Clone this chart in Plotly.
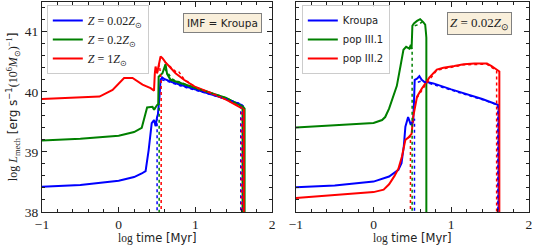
import plotly.graph_objects as go

# ---------- left panel: IMF = Kroupa, three metallicities ----------
t_z002 = [-1, -0.5, 0, 0.2, 0.3, 0.35, 0.39, 0.43, 0.46, 0.48, 0.5, 0.51, 0.53, 0.545, 0.566, 0.6, 0.7, 0.8, 1.0, 1.2, 1.4, 1.605, 1.62, 1.62]
L_z002 = [38.42, 38.45, 38.52, 38.58, 38.64, 38.68, 39.03, 39.48, 39.53, 39.43, 39.58, 39.62, 39.9, 40.2, 40.24, 40.21, 40.16, 40.12, 40.03, 39.96, 39.88, 39.78, 39.76, 37]
t_z002_dot = [0.46, 0.48, 0.5, 0.5, None, 0.56, 0.62, 0.8, 1.0, 1.2, 1.4, 1.59, 1.59]
L_z002_dot = [39.53, 39.43, 39.55, 37, None, 40.2, 40.18, 40.1, 40.03, 39.96, 39.88, 39.8, 37]

t_z02 = [-1, -0.5, 0, 0.2, 0.3, 0.34, 0.37, 0.44, 0.46, 0.5, 0.515, 0.52, 0.57, 0.61, 0.63, 0.675, 0.8, 1.0, 1.2, 1.4, 1.62, 1.64, 1.64]
L_z02 = [39.19, 39.22, 39.27, 39.33, 39.4, 39.6, 39.74, 39.75, 39.7, 39.78, 39.8, 40.25, 40.31, 40.46, 40.3, 40.2, 40.15, 40.06, 39.98, 39.9, 39.75, 39.72, 37]
t_z02_dot = [0.46, 0.5, 0.527, 0.527, None, 0.6, 0.7, 1.0, 1.4, 1.61, 1.61]
L_z02_dot = [39.7, 39.78, 39.8, 37, None, 40.38, 40.21, 40.06, 39.9, 39.76, 37]

t_z1 = [-1, -0.5, -0.25, -0.08, 0, 0.07, 0.18, 0.26, 0.31, 0.415, 0.46, 0.47, 0.48, 0.5, 0.515, 0.53, 0.545, 0.57, 0.61, 0.675, 0.74, 0.85, 1.0, 1.2, 1.4, 1.6, 1.63, 1.63]
L_z1 = [39.88, 39.9, 39.92, 40.03, 40.14, 40.23, 40.23, 40.17, 40.12, 40.06, 40.02, 40.3, 40.42, 40.31, 40.4, 40.45, 40.59, 40.56, 40.49, 40.4, 40.31, 40.2, 40.08, 39.98, 39.87, 39.73, 39.7, 37]
t_z1_dot = [0.5, 0.53, 0.553, 0.553, None, 0.6, 0.7, 0.75, 0.78, 0.85, 1.0, 1.4, 1.6, 1.6]
L_z1_dot = [40.31, 40.45, 40.2, 37, None, 40.5, 40.38, 40.33, 40.34, 40.21, 40.08, 39.87, 39.74, 37]

# ---------- right panel: Z = 0.02 Zsun, three IMFs ----------
t_kroupa = [-1, -0.5, 0, 0.2, 0.32, 0.36, 0.39, 0.41, 0.445, 0.47, 0.48, 0.5, 0.51, 0.52, 0.53, 0.56, 0.59, 0.62, 0.66, 0.7, 0.77, 1.0, 1.2, 1.4, 1.606, 1.61, 1.61]
L_kroupa = [38.41, 38.44, 38.505, 38.59, 38.7, 38.81, 39.1, 39.42, 39.58, 39.5, 39.45, 39.5, 39.5, 39.8, 40.2, 40.22, 40.26, 40.2, 40.16, 40.16, 40.14, 40.04, 39.96, 39.88, 39.78, 39.78, 37]
t_kroupa_dot = [0.48, 0.5, 0.527, 0.527, None, 0.57, 0.62, 0.77, 1.0, 1.4, 1.6, 1.6]
L_kroupa_dot = [39.45, 39.5, 39.55, 37, None, 40.16, 40.18, 40.12, 40.03, 39.87, 39.78, 37]

t_p31 = [-1, -0.5, 0, 0.11, 0.15, 0.2, 0.25, 0.3, 0.35, 0.385, 0.42, 0.46, 0.48, 0.49, 0.5, 0.52, 0.56, 0.6, 0.64, 0.665, 0.675, 0.68, 0.68]
L_p31 = [39.405, 39.44, 39.48, 39.53, 39.58, 39.72, 39.9, 40.1, 40.45, 40.7, 40.75, 40.72, 40.78, 40.72, 41.1, 41.14, 41.18, 41.21, 41.16, 41.12, 40.98, 40.9, 37]
t_p31_dot = [0.46, 0.497, 0.497, None, 0.53, 0.58, 0.62, 0.66]
L_p31_dot = [40.72, 40.72, 37, None, 41.1, 41.12, 41.16, 41.12]

t_p32 = [-1, -0.5, 0, 0.13, 0.2, 0.27, 0.32, 0.365, 0.41, 0.44, 0.47, 0.49, 0.51, 0.56, 0.62, 0.66, 0.72, 0.815, 0.9, 1.04, 1.16, 1.3, 1.46, 1.52, 1.6, 1.62, 1.62]
L_p32 = [38.23, 38.28, 38.33, 38.37, 38.46, 38.6, 38.72, 38.92, 39.2, 39.23, 39.27, 39.3, 39.58, 39.92, 40.05, 40.12, 40.24, 40.37, 40.4, 40.43, 40.46, 40.47, 40.47, 40.43, 40.36, 40.34, 37]
t_p32_dot = [0.44, 0.475, 0.475, None, 0.56, 0.66, 0.815, 1.16, 1.46, 1.585, 1.585]
L_p32_dot = [39.23, 39.25, 37, None, 39.9, 40.1, 40.36, 40.45, 40.46, 40.35, 37]

left_names = ["<i>Z</i> = 0.02<i>Z</i><sub>⊙</sub>", "<i>Z</i> = 0.2<i>Z</i><sub>⊙</sub>", "<i>Z</i> = 1<i>Z</i><sub>⊙</sub>"]
right_names = ["Kroupa", "pop III.1", "pop III.2"]
colors = ["#0000ff", "#008000", "#ff0000"]

left_solid = [(t_z002, L_z002), (t_z02, L_z02), (t_z1, L_z1)]
left_dot = [(t_z002_dot, L_z002_dot), (t_z02_dot, L_z02_dot), (t_z1_dot, L_z1_dot)]
right_solid = [(t_kroupa, L_kroupa), (t_p31, L_p31), (t_p32, L_p32)]
right_dot = [(t_kroupa_dot, L_kroupa_dot), (t_p31_dot, L_p31_dot), (t_p32_dot, L_p32_dot)]

fig = go.Figure()

for (t, L), name, c in zip(left_solid, left_names, colors):
    fig.add_trace(go.Scatter(x=t, y=L, mode="lines", name=name, line=dict(color=c, width=2),
                             xaxis="x", yaxis="y", legend="legend"))
for (t, L), c in zip(left_dot, colors):
    fig.add_trace(go.Scatter(x=t, y=L, mode="lines", showlegend=False, line=dict(color=c, width=1.5, dash="dot"),
                             xaxis="x", yaxis="y"))
for (t, L), name, c in zip(right_solid, right_names, colors):
    fig.add_trace(go.Scatter(x=t, y=L, mode="lines", name=name, line=dict(color=c, width=2),
                             xaxis="x2", yaxis="y2", legend="legend2"))
for (t, L), c in zip(right_dot, colors):
    fig.add_trace(go.Scatter(x=t, y=L, mode="lines", showlegend=False, line=dict(color=c, width=1.5, dash="dot"),
                             xaxis="x2", yaxis="y2"))

serif = "Liberation Serif"
sans = "DejaVu Sans"
ink = "#222"

ax_common = dict(
    showline=True, linecolor=ink, linewidth=1, mirror="allticks", automargin=False,
    ticks="inside", ticklen=5, tickcolor=ink, showgrid=False, zeroline=False,
    tickfont=dict(family=serif, size=13.5, color=ink),
)
minor = dict(dtick=0.2, ticks="inside", ticklen=3, tickcolor=ink)
x_title = '<span style="font-family:Liberation Serif">log</span> time [Myr]'

fig.update_layout(
    width=538, height=247,
    margin=dict(l=0, r=0, t=0, b=0),
    plot_bgcolor="white", paper_bgcolor="white",
    xaxis=dict(domain=[0.078, 0.506], range=[-1, 2], tickvals=[-1, 0, 1, 2], ticktext=["−1", "0", "1", "2"],
               minor=minor, anchor="y", **ax_common),
    yaxis=dict(domain=[0.142, 0.993], range=[38, 41.5], tickvals=[38, 39, 40, 41],
               minor=minor,
               title=dict(text='<span style="font-family:Liberation Serif">log <i>L</i><sub>mech</sub></span> '
                               '[erg s<sup>−1</sup><span style="font-family:Liberation Serif">(10<sup>6</sup><i>M</i><sub>⊙</sub>)<sup>−1</sup></span>]',
                          font=dict(family=sans, size=12, color=ink), standoff=4),
               anchor="x", **ax_common),
    xaxis2=dict(domain=[0.550, 0.983], range=[-1, 2], tickvals=[-1, 0, 1, 2], ticktext=["−1", "0", "1", "2"],
                minor=minor, anchor="y2", **ax_common),
    yaxis2=dict(domain=[0.142, 0.993], range=[38, 41.5], tickvals=[38, 39, 40, 41], showticklabels=False,
                minor=minor, anchor="x2", **ax_common),
    legend=dict(x=0.087, y=0.98, xanchor="left", yanchor="top", bgcolor="rgba(255,255,255,0.85)",
                bordercolor="#cccccc", borderwidth=1, font=dict(family=serif, size=12, color=ink),
                tracegroupgap=0, itemwidth=30),
    legend2=dict(x=0.561, y=0.98, xanchor="left", yanchor="top", bgcolor="rgba(255,255,255,0.85)",
                 bordercolor="#cccccc", borderwidth=1, font=dict(family=sans, size=10, color=ink),
                 tracegroupgap=0, itemwidth=30),
    annotations=[
        dict(text="IMF = Kroupa", x=0.487, y=0.907, xref="paper", yref="paper", xanchor="right", yanchor="middle",
             showarrow=False, font=dict(family=sans, size=10.5, color=ink), bgcolor="#f9efdb", bordercolor="#808080",
             borderwidth=1, borderpad=3),
        dict(text="<i>Z</i> = 0.02<i>Z</i><sub>⊙</sub>", x=0.952, y=0.905, xref="paper", yref="paper", xanchor="right",
             yanchor="middle", showarrow=False, font=dict(family=serif, size=13, color=ink), bgcolor="#f9efdb",
             bordercolor="#808080", borderwidth=1, borderpad=2),
        dict(text=x_title, x=0.292, y=0.036, xref="paper", yref="paper", xanchor="center", yanchor="middle",
             showarrow=False, font=dict(family=sans, size=11.5, color=ink)),
        dict(text=x_title, x=0.7665, y=0.036, xref="paper", yref="paper", xanchor="center", yanchor="middle",
             showarrow=False, font=dict(family=sans, size=11.5, color=ink)),
    ],
)

fig.write_html("out.html", config={"displayModeBar": False},
               post_script="document.body.style.margin='0';")
